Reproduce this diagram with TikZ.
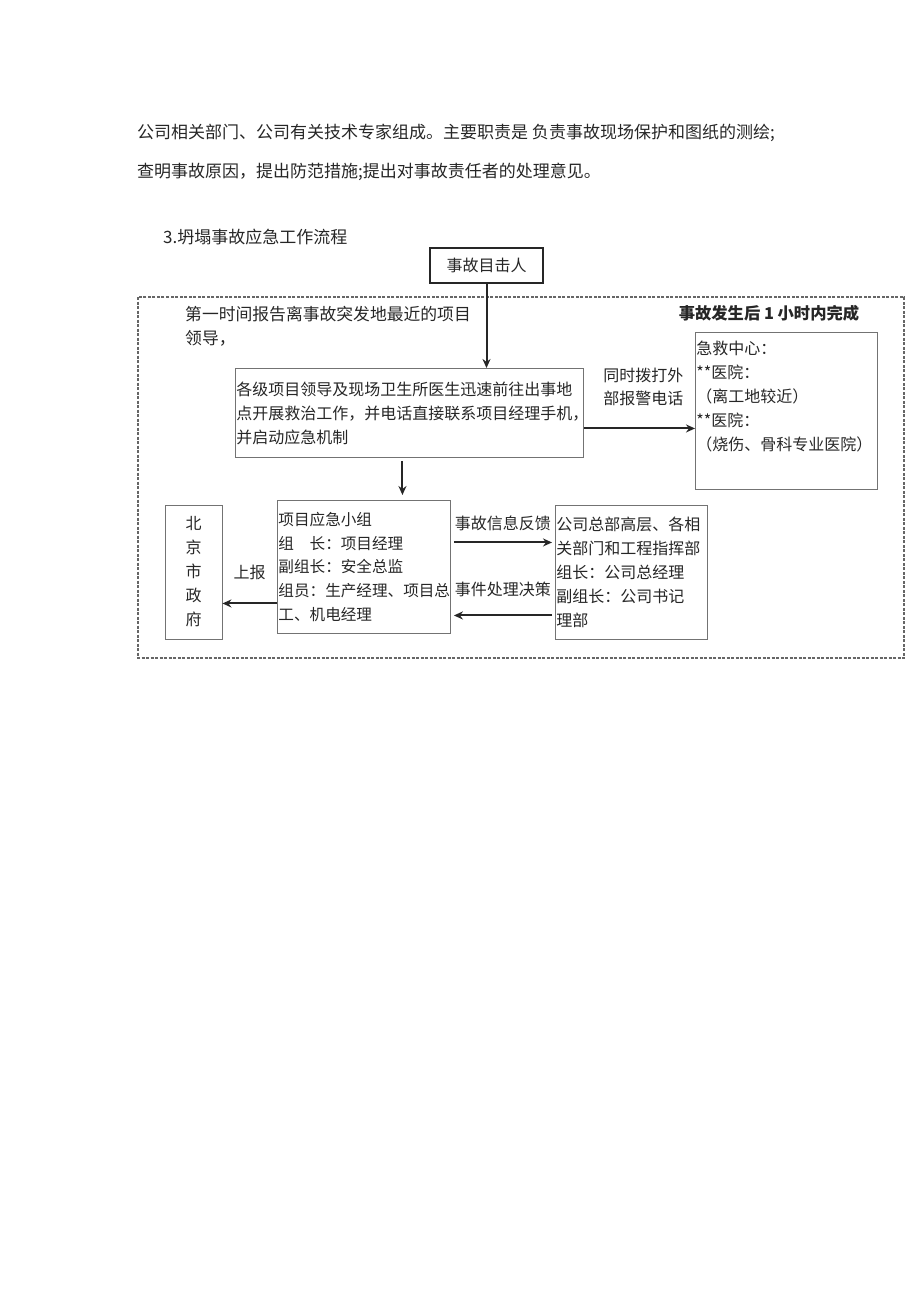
\documentclass[tikz,border=0pt]{standalone}
\usepackage{fontspec}
\setmainfont{Noto Sans CJK SC}
\usetikzlibrary{arrows.meta}
\tikzset{%
  box/.style={draw=black!55, line width=0.9pt, inner sep=1pt, align=left,
              font=\fontsize{16}{24}\selectfont},
  flow/.style={-{Stealth[length=9pt,width=8pt]}, line width=2pt},
  txt/.style={anchor=west, inner sep=0pt, align=left,
              font=\fontsize{17}{24}\selectfont},
  lbl/.style={inner sep=0pt, align=center, font=\fontsize{16}{23}\selectfont},
}

\begin{document}
\begin{tikzpicture}[x=1pt,y=-1pt,color=black!85]
  \useasboundingbox (0,0) rectangle (920,1301);
  \node[txt] (p1) at (137,133) {公司相关部门、公司有关技术专家组成。主要职责是 负责事故现场保护和图纸的测绘;};
  \node[txt] (p2) at (137,172) {查明事故原因，提出防范措施;提出对事故责任者的处理意见。};
  \node[txt] (head) at (163,237) {3.坍塌事故应急工作流程};
  \draw[dash pattern=on 3pt off 1.5pt, line width=2pt, draw=black!60] (138,297) rectangle (904,658);
  \node[box, align=center, draw=black!85, line width=1.6pt, minimum width=113pt, minimum height=35pt] (W) at (486.5,265.5) {事故目击人};
  \node[txt, font=\fontsize{16.8}{24}\selectfont] (note) at (185,326) {第一时间报告离事故突发地最近的项目\\领导，};
  \node[lbl, font=\fontsize{16.3}{20}\selectfont\bfseries] (due) at (769,313) {事故发生后 1 小时内完成};
  \node[box, anchor=north west, text width=346pt, minimum height=89pt] (L) at (235,368) {各级项目领导及现场卫生所医生迅速前往出事地\\点开展救治工作，并电话直接联系项目经理手机，\\并启动应急机制};
  \node[box, anchor=north west, text width=180pt, minimum height=157pt] (E) at (695,332) {急救中心：\\{**}医院：\\（离工地较近）\\{**}医院：\\（烧伤、骨科专业医院）\\\strut};
  \node[box, align=center, minimum width=57pt, minimum height=134pt] (B) at (193.5,572) {北\\京\\市\\政\\府};
  \node[box, anchor=north west, text width=171pt, minimum height=133pt, font=\fontsize{15.6}{23.8}\selectfont] (P) at (277,500) {项目应急小组\\组\hspace{1em}长：项目经理\\副组长：安全总监\\组员：生产经理、项目总\\工、机电经理};
  \node[box, anchor=north west, text width=150pt, minimum height=134pt] (C) at (555,505) {公司总部高层、各相\\关部门和工程指挥部\\组长：公司总经理\\副组长：公司书记\\理部};
  % arrows
  \draw[flow] (W.south) -- (W.south |- L.north);
  \draw[flow, shorten <=3pt, shorten >=5pt] ([xshift=-7pt]L.south) -- ([xshift=-7pt]L.south |- P.north);
  \draw[flow] ([yshift=-15.5pt]L.east) -- ([yshift=-15.5pt]L.east -| E.west)
    node[lbl, midway, xshift=4pt, yshift=41.5pt] {同时拨打外\\部报警电话};
  \draw[flow, shorten <=3pt, shorten >=3pt] ([yshift=24.5pt]P.east) -- ([yshift=24.5pt]P.east -| C.west)
    node[lbl, midway, yshift=19pt] {事故信息反馈};
  \draw[flow, shorten <=3pt, shorten >=3pt] ([yshift=-48.5pt]P.east -| C.west) -- ([yshift=-48.5pt]P.east)
    node[lbl, midway, yshift=26pt] {事件处理决策};
  \draw[flow] ([yshift=-36.5pt]P.west) -- ([yshift=-36.5pt]P.west -| B.east)
    node[lbl, midway, yshift=31pt] {上报};
\end{tikzpicture}
\end{document}
